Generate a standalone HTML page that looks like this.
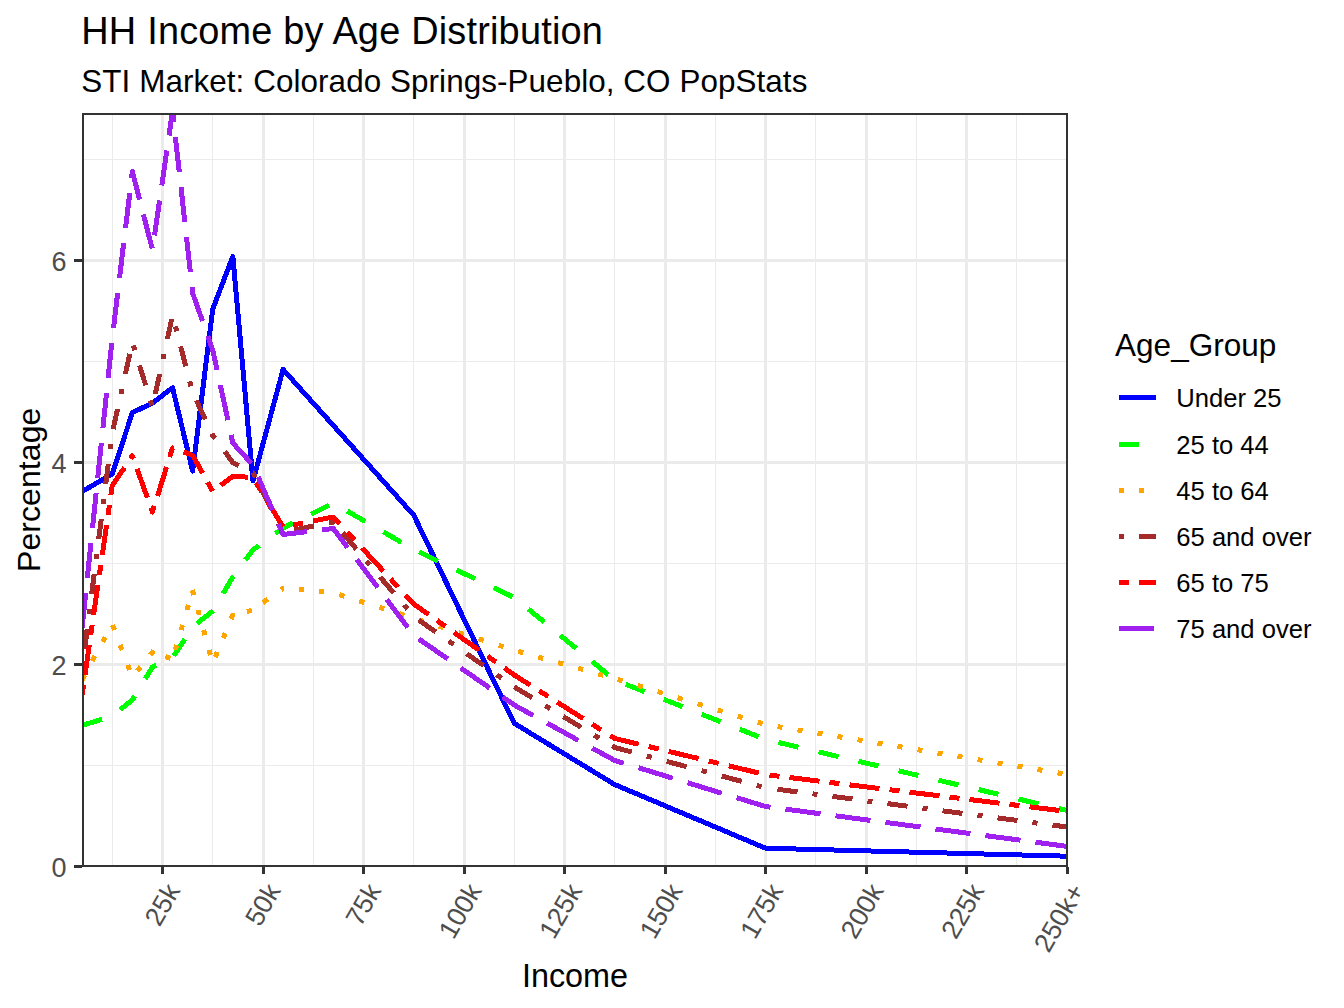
<!DOCTYPE html>
<html><head><meta charset="utf-8"><title>HH Income by Age Distribution</title>
<style>html,body{margin:0;padding:0;background:#fff;}body{width:1344px;height:1008px;overflow:hidden;font-family:"Liberation Sans",sans-serif;}</style>
</head><body>
<svg width="1344" height="1008" viewBox="0 0 1344 1008" style="display:block;font-family:'Liberation Sans',sans-serif">
<rect width="1344" height="1008" fill="#FFFFFF"/>
<defs><clipPath id="pc"><rect x="82.00" y="113.00" width="986.00" height="754.00"/></clipPath></defs>
<g clip-path="url(#pc)">
<g fill="#EBEBEB" shape-rendering="crispEdges">
<rect x="82" y="765" width="986" height="1"/>
<rect x="82" y="563" width="986" height="1"/>
<rect x="82" y="361" width="986" height="1"/>
<rect x="82" y="159" width="986" height="1"/>
<rect x="112" y="113" width="1" height="754"/>
<rect x="212" y="113" width="1" height="754"/>
<rect x="313" y="113" width="1" height="754"/>
<rect x="413" y="113" width="1" height="754"/>
<rect x="514" y="113" width="1" height="754"/>
<rect x="614" y="113" width="1" height="754"/>
<rect x="715" y="113" width="1" height="754"/>
<rect x="815" y="113" width="1" height="754"/>
<rect x="916" y="113" width="1" height="754"/>
<rect x="1016" y="113" width="1" height="754"/>
<rect x="82" y="865" width="986" height="3"/>
<rect x="82" y="663" width="986" height="3"/>
<rect x="82" y="461" width="986" height="3"/>
<rect x="82" y="259" width="986" height="3"/>
<rect x="161" y="113" width="3" height="754"/>
<rect x="262" y="113" width="3" height="754"/>
<rect x="362" y="113" width="3" height="754"/>
<rect x="463" y="113" width="3" height="754"/>
<rect x="563" y="113" width="3" height="754"/>
<rect x="664" y="113" width="3" height="754"/>
<rect x="764" y="113" width="3" height="754"/>
<rect x="865" y="113" width="3" height="754"/>
<rect x="965" y="113" width="3" height="754"/>
<rect x="1066" y="113" width="3" height="754"/>
</g>
<path d="M82.10 491.50 L112.25 474.00 L132.35 412.70 L152.45 403.00 L172.55 387.80 L192.65 471.00 L212.75 309.00 L232.85 256.50 L252.95 481.00 L283.10 369.50 L333.35 425.50 L413.75 515.20 L514.25 723.30 L614.75 784.60 L765.50 848.20 L1067.00 856.20" fill="none" stroke="#0000FF" stroke-width="5" stroke-linejoin="round" stroke-linecap="butt" shape-rendering="crispEdges"/>
<path d="M82.1 725.5L102.1 719.2M120.2 709.6L132.3 700.0L134.7 696.1M145.2 678.9L152.4 667.0L156.3 665.3M173.8 656.0L184.8 639.1M197.1 623.4L212.7 611.0L212.9 610.8M223.1 593.5L232.8 577.0L233.5 576.2M245.5 560.0L252.9 550.0L259.2 545.5M275.5 533.6L283.1 528.0L293.1 523.0M311.1 514.1L329.1 505.1M347.3 511.1L365.3 521.5M383.3 531.9L401.3 542.3M419.1 552.0L437.8 561.0M456.4 569.9L475.1 578.8M493.8 587.8L512.5 596.7M528.2 609.0L544.2 622.1M560.2 635.3L576.2 648.4M592.2 661.5L608.2 674.7M625.7 684.3L644.7 691.8M663.7 699.3L682.7 706.8M701.7 714.3L720.7 721.8M739.7 729.3L758.7 736.7M778.5 742.5L798.5 747.2M818.5 751.9L838.5 756.6M858.5 761.3L878.5 766.0M898.5 770.8L918.5 775.5M938.5 780.2L958.5 784.9M978.5 789.6L998.5 794.3M1018.5 799.1L1038.5 803.8M1058.5 808.5L1067.0 810.5" fill="none" stroke="#00FF00" stroke-width="5" stroke-linejoin="round" stroke-linecap="butt" shape-rendering="crispEdges"/>
<path d="M82.1 680.0L84.8 675.0M92.3 661.0L95.0 656.0M102.6 642.0L105.3 637.0M112.6 625.0L114.5 630.0M120.2 645.0L122.1 650.0M127.8 665.0L129.7 670.0M137.2 671.0L140.5 667.0M150.3 655.0L152.4 652.3L150.4 651.6M165.4 656.6L170.4 658.3M175.2 650.0L176.7 645.0M181.1 630.0L182.6 625.0M187.0 610.0L188.5 605.0M192.4 590.0L193.8 595.0M198.0 610.0L199.3 615.0M203.5 630.0L204.9 635.0M209.1 650.0L210.5 655.0M215.3 657.0L217.4 652.0M223.2 638.0L225.3 633.0M231.2 619.0L232.8 615.0L231.8 615.2M246.8 611.5L251.8 610.3M262.9 602.7L267.9 599.1M280.9 589.6L283.1 588.0L284.1 588.1M299.1 589.5L304.1 590.0M319.1 591.4L324.1 591.9M339.3 594.7L344.3 596.3M359.3 601.0L364.3 602.6M379.3 607.4L384.3 609.0M399.3 613.7L404.3 615.3M418.7 619.9L423.7 621.5M438.7 626.2L443.7 627.8M458.7 632.6L463.7 634.2M478.7 638.9L483.7 640.5M498.7 645.3L503.7 646.9M518.2 651.3L523.2 652.7M538.2 657.0L543.2 658.4M558.2 662.6L563.2 664.0M578.2 668.2L583.2 669.6M598.2 673.9L603.2 675.3M617.7 679.4L622.7 680.9M637.7 685.5L642.7 687.1M657.7 691.6L662.7 693.2M677.7 697.8L682.7 699.3M697.7 703.9L702.7 705.4M717.7 710.0L722.7 711.5M737.7 716.1L742.7 717.6M757.7 722.2L762.7 723.8M777.5 726.6L782.5 727.4M797.5 729.9L802.5 730.7M817.5 733.2L822.5 734.0M837.5 736.5L842.5 737.3M857.5 739.8L862.5 740.6M877.5 743.1L882.5 743.9M897.5 746.4L902.5 747.2M917.5 749.7L922.5 750.5M937.5 753.0L942.5 753.8M957.5 756.3L962.5 757.1M977.5 759.6L982.5 760.4M997.5 762.9L1002.5 763.7M1017.5 766.2L1022.5 767.0M1037.5 769.5L1042.5 770.4M1057.5 772.8L1062.5 773.7" fill="none" stroke="#FFA500" stroke-width="5" stroke-linejoin="round" stroke-linecap="butt" shape-rendering="crispEdges"/>
<path d="M82.1 669.0L82.7 664.0M84.7 649.0L87.2 629.0M89.1 614.0L89.8 609.0M91.7 594.0L94.2 574.0M96.2 559.0L96.8 554.0M98.7 539.0L101.3 519.0M103.2 504.0L103.8 499.0M105.7 484.0L108.3 464.0M110.2 449.0L110.8 444.0M113.1 429.0L117.6 409.0M120.9 394.0L122.0 389.0M125.3 374.0L129.8 354.0M133.3 345.3L134.8 350.3M139.5 365.3L145.7 385.3M150.4 400.3L151.9 405.3M155.3 394.0L159.7 374.0M163.0 359.0L164.1 354.0M167.4 339.0L171.7 319.0M175.4 326.3L176.7 331.3M180.6 346.3L185.8 366.3M189.7 381.3L191.0 386.3M196.4 400.5L205.3 419.5M211.8 433.5L212.7 435.5L215.0 438.5M224.7 451.5L232.8 462.5L238.8 465.5M252.8 472.4L252.9 472.4L255.5 477.4M262.5 491.4L271.6 509.4M278.6 523.4L281.1 528.4M294.1 530.0L314.1 525.9M329.1 522.9L333.3 522.0L332.5 521.0M342.7 533.0L356.3 549.0M366.5 561.0L369.9 565.0M380.1 577.0L393.8 593.0M404.0 605.0L407.4 609.0M418.7 620.0L435.7 631.9M448.7 641.1L453.7 644.6M466.7 653.7L483.7 665.6M496.7 674.7L501.7 678.2M514.2 687.0L532.2 697.8M545.2 705.7L550.2 708.7M563.2 716.5L581.2 727.3M594.2 735.2L599.2 738.2M612.2 746.0L614.7 747.5L631.7 752.0M646.7 756.0L651.7 757.4M666.7 761.4L686.7 766.7M701.7 770.7L706.7 772.0M721.7 776.0L741.7 781.4M756.7 785.4L761.7 786.7M777.5 789.3L797.5 791.9M812.5 793.8L817.5 794.5M832.5 796.4L852.5 799.0M867.5 801.0L872.5 801.6M887.5 803.6L907.5 806.2M922.5 808.2L927.5 808.8M942.5 810.8L962.5 813.4M977.5 815.3L982.5 816.0M997.5 817.9L1017.5 820.5M1032.5 822.5L1037.5 823.2M1052.5 825.1L1067.0 827.0" fill="none" stroke="#A52A2A" stroke-width="5" stroke-linejoin="round" stroke-linecap="butt" shape-rendering="crispEdges"/>
<path d="M82.1 695.0L83.5 685.0M85.0 675.0L89.3 645.0M90.7 635.0L92.2 625.0M93.6 615.0L97.9 585.0M99.4 575.0L100.8 565.0M102.3 555.0L106.6 525.0M108.0 515.0L109.5 505.0M110.9 495.0L112.2 485.7L124.4 467.7M130.4 458.7L132.3 455.8L133.4 458.8M137.0 468.8L147.4 497.8M150.9 507.8L152.4 512.0L154.3 506.0M157.5 496.0L166.6 467.0M169.7 457.0L172.5 448.0L173.5 448.4M183.5 451.9L192.6 455.2L202.6 473.2M207.6 482.2L212.6 491.2M220.7 485.4L232.8 476.2L247.8 477.2M256.0 482.6L261.5 491.6M267.0 500.6L282.9 526.6M293.1 525.0L303.1 523.0M313.1 521.0L333.3 517.0L339.8 524.0M347.2 532.0L354.6 540.0M362.0 548.0L383.3 571.0M390.6 579.0L398.0 587.0M405.4 595.0L413.7 604.0L428.7 614.5M437.1 620.5L445.5 626.4M453.9 632.4L479.2 650.2M487.6 656.1L496.0 662.1M504.4 668.0L514.2 675.0L530.2 685.1M539.2 690.8L548.2 696.5M557.2 702.2L583.2 718.6M592.2 724.3L601.2 730.0M610.2 735.7L614.7 738.5L638.7 744.2M648.7 746.6L658.7 749.0M668.7 751.4L698.7 758.6M708.7 761.0L718.7 763.4M728.7 765.8L758.7 773.0M769.5 775.1L779.5 776.3M789.5 777.5L819.5 781.2M829.5 782.4L839.5 783.6M849.5 784.9L879.5 788.5M889.5 789.7L899.5 791.0M909.5 792.2L939.5 795.8M949.5 797.1L959.5 798.3M969.5 799.5L999.5 803.2M1009.5 804.4L1019.5 805.6M1029.5 806.8L1059.5 810.5" fill="none" stroke="#FF0000" stroke-width="5" stroke-linejoin="round" stroke-linecap="butt" shape-rendering="crispEdges"/>
<path d="M82.1 628.2L85.7 593.2M87.3 578.2L90.9 543.2M92.5 528.2L96.1 493.2M97.7 478.2L101.3 443.2M102.9 428.2L106.5 393.2M108.1 378.2L111.7 343.2M113.5 328.0L117.7 293.0M119.5 278.0L123.7 243.0M125.5 228.0L129.8 193.0M131.6 178.0L132.3 171.5L139.6 199.5M143.4 214.5L152.2 248.5M154.5 235.5L159.6 200.5M161.8 185.5L166.8 150.5M169.0 135.5L172.5 111.2L173.8 122.2M175.4 137.2L179.3 172.2M181.0 187.2L184.8 222.2M186.5 237.2L190.4 272.2M192.0 287.2L192.6 293.0L202.5 321.0M207.8 336.0L212.7 350.0L217.1 370.0M220.3 385.0L227.9 420.0M231.1 435.0L232.8 443.0L251.1 463.0M258.2 477.0L272.5 510.0M278.5 524.0L283.1 534.5L307.1 531.6M322.1 529.8L333.3 528.5L347.6 547.5M356.7 559.5L377.7 587.5M386.7 599.5L407.8 627.5M418.7 638.9L447.7 658.9M460.7 667.9L489.7 688.0M502.7 697.0L514.2 705.0L533.2 715.5M547.2 723.2L578.2 740.3M592.2 748.1L614.7 760.5L623.7 763.2M638.7 767.8L672.7 778.2M687.7 782.8L721.7 793.2M736.7 797.7L765.5 806.5L770.5 807.2M785.5 809.1L820.5 813.8M835.5 815.8L870.5 820.4M885.5 822.4L920.5 827.0M935.5 829.0L970.5 833.6M985.5 835.6L1020.5 840.2M1035.5 842.2L1067.0 846.4" fill="none" stroke="#A020F0" stroke-width="5" stroke-linejoin="round" stroke-linecap="butt" shape-rendering="crispEdges"/>
</g>
<rect x="83.00" y="114.00" width="984.00" height="752.00" fill="none" stroke="#333333" stroke-width="2"/>
<g fill="#333333" shape-rendering="crispEdges">
<rect x="74" y="865" width="8" height="3"/>
<rect x="74" y="663" width="8" height="3"/>
<rect x="74" y="461" width="8" height="3"/>
<rect x="74" y="259" width="8" height="3"/>
<rect x="161" y="867" width="3" height="7"/>
<rect x="262" y="867" width="3" height="7"/>
<rect x="362" y="867" width="3" height="7"/>
<rect x="463" y="867" width="3" height="7"/>
<rect x="563" y="867" width="3" height="7"/>
<rect x="664" y="867" width="3" height="7"/>
<rect x="764" y="867" width="3" height="7"/>
<rect x="865" y="867" width="3" height="7"/>
<rect x="965" y="867" width="3" height="7"/>
<rect x="1066" y="867" width="3" height="7"/>
</g>
<g fill="#4D4D4D" font-size="27px" text-anchor="end">
<text x="66.6" y="876.60">0</text>
<text x="66.6" y="674.60">2</text>
<text x="66.6" y="472.60">4</text>
<text x="66.6" y="270.60">6</text>
</g>
<g fill="#4D4D4D" font-size="26.67px" text-anchor="end">
<text transform="translate(164.40 881.00) rotate(-60)" x="0" y="19.1">25k</text>
<text transform="translate(264.90 881.00) rotate(-60)" x="0" y="19.1">50k</text>
<text transform="translate(365.40 881.00) rotate(-60)" x="0" y="19.1">75k</text>
<text transform="translate(465.90 881.00) rotate(-60)" x="0" y="19.1">100k</text>
<text transform="translate(566.40 881.00) rotate(-60)" x="0" y="19.1">125k</text>
<text transform="translate(666.90 881.00) rotate(-60)" x="0" y="19.1">150k</text>
<text transform="translate(767.40 881.00) rotate(-60)" x="0" y="19.1">175k</text>
<text transform="translate(867.90 881.00) rotate(-60)" x="0" y="19.1">200k</text>
<text transform="translate(968.40 881.00) rotate(-60)" x="0" y="19.1">225k</text>
<text transform="translate(1068.90 881.00) rotate(-60)" x="0" y="19.1">250k+</text>
</g>
<text x="81.3" y="44.2" font-size="37.9px" letter-spacing="0.2" fill="#000">HH Income by Age Distribution</text>
<text x="81.3" y="91.5" font-size="31.4px" letter-spacing="0.08" fill="#000">STI Market: Colorado Springs-Pueblo, CO PopStats</text>
<text x="575" y="987.2" font-size="32.4px" fill="#000" text-anchor="middle">Income</text>
<text transform="translate(39.9 489.8) rotate(-90)" font-size="32px" letter-spacing="0.08" fill="#000" text-anchor="middle">Percentage</text>
<text x="1115.1" y="356.3" font-size="31.5px" fill="#000">Age_Group</text>
<path d="M1119 397.50H1156" fill="none" stroke="#0000FF" stroke-width="5" shape-rendering="crispEdges"/>
<text x="1176.3" y="407.30" font-size="25.6px" fill="#000">Under 25</text>
<path d="M1119 444.50H1156" fill="none" stroke="#00FF00" stroke-width="5" shape-rendering="crispEdges" stroke-dasharray="20 20"/>
<text x="1176.3" y="454.30" font-size="25.6px" fill="#000">25 to 44</text>
<path d="M1119 490.50H1156" fill="none" stroke="#FFA500" stroke-width="5" shape-rendering="crispEdges" stroke-dasharray="5 15"/>
<text x="1176.3" y="500.30" font-size="25.6px" fill="#000">45 to 64</text>
<path d="M1119 536.50H1156" fill="none" stroke="#A52A2A" stroke-width="5" shape-rendering="crispEdges" stroke-dasharray="5 15 20 15"/>
<text x="1176.3" y="546.30" font-size="25.6px" fill="#000">65 and over</text>
<path d="M1119 582.50H1156" fill="none" stroke="#FF0000" stroke-width="5" shape-rendering="crispEdges" stroke-dasharray="10 10 30 10"/>
<text x="1176.3" y="592.30" font-size="25.6px" fill="#000">65 to 75</text>
<path d="M1119 628.50H1156" fill="none" stroke="#A020F0" stroke-width="5" shape-rendering="crispEdges" stroke-dasharray="35 15"/>
<text x="1176.3" y="638.30" font-size="25.6px" fill="#000">75 and over</text>
</svg>
</body></html>
